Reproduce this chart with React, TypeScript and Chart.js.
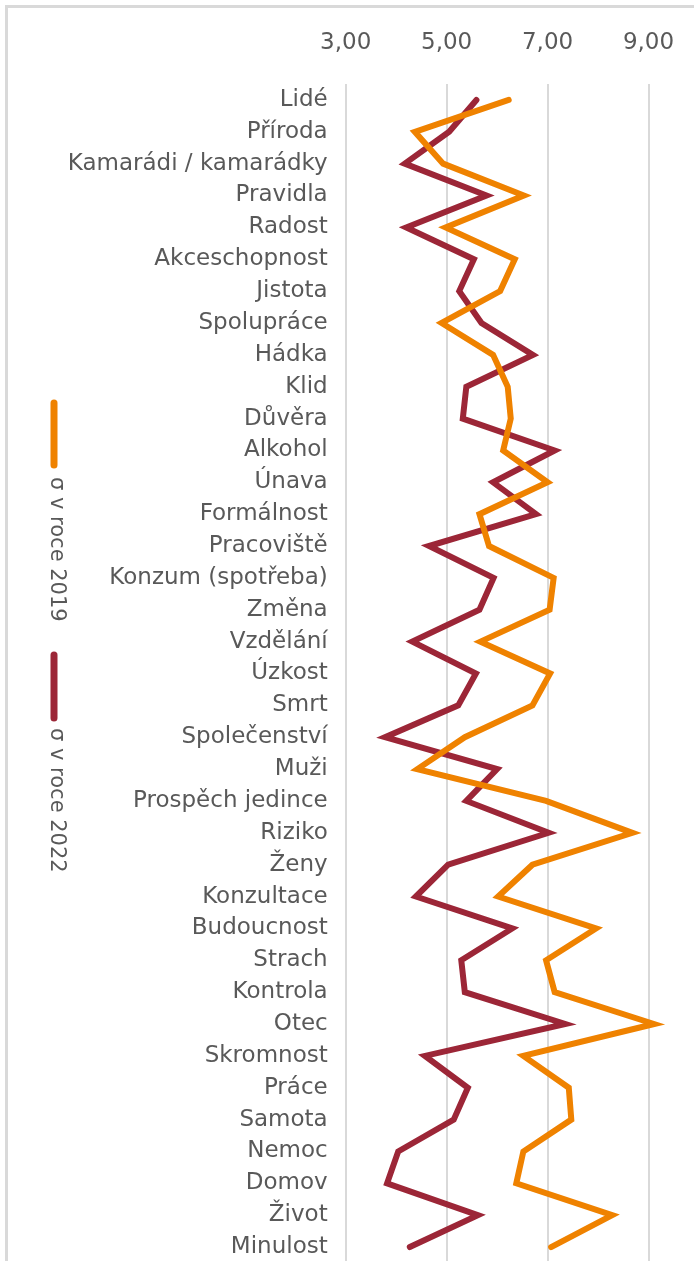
import React, { useEffect, useRef } from "react";
import { Chart, registerables } from "chart.js";

Chart.register(...registerables);

const categories = [
  "Lidé", "Příroda", "Kamarádi / kamarádky", "Pravidla", "Radost", "Akceschopnost",
  "Jistota", "Spolupráce", "Hádka", "Klid", "Důvěra", "Alkohol", "Únava", "Formálnost",
  "Pracoviště", "Konzum (spotřeba)", "Změna", "Vzdělání", "Úzkost", "Smrt", "Společenství",
  "Muži", "Prospěch jedince", "Riziko", "Ženy", "Konzultace", "Budoucnost", "Strach",
  "Kontrola", "Otec", "Skromnost", "Práce", "Samota", "Nemoc", "Domov", "Život", "Minulost",
];

const values2019 = [
  6.23, 4.37, 4.93, 6.53, 4.98, 6.35, 6.06, 4.9, 5.92, 6.21, 6.27, 6.12, 7.0, 5.65,
  5.84, 7.12, 7.04, 5.67, 7.05, 6.7, 5.36, 4.42, 6.97, 8.68, 6.7, 6.02, 7.96, 6.97,
  7.14, 9.11, 6.52, 7.42, 7.47, 6.52, 6.38, 8.28, 7.07,
];

const values2022 = [
  5.59, 5.05, 4.17, 5.79, 4.2, 5.54, 5.25, 5.69, 6.71, 5.39, 5.32, 7.14, 5.92, 6.77,
  4.65, 5.93, 5.65, 4.32, 5.58, 5.23, 3.78, 6.0, 5.39, 7.02, 5.03, 4.39, 6.3, 5.29,
  5.36, 7.35, 4.57, 5.42, 5.14, 4.04, 3.82, 5.62, 4.27,
];

const tickValues = [3, 5, 7, 9];
const seriesLabels = ["σ v roce 2019", "σ v roce 2022"];
const seriesColors = ["#EF8200", "#9C2637"];

const TEXT = "#595959";
const FONT = "'DejaVu Sans', sans-serif";

const zeroPad = (s: any) => {
  s.paddingTop = 0;
  s.paddingBottom = 0;
  s.paddingLeft = 0;
  s.paddingRight = 0;
};

const verticalLegend = {
  id: "verticalLegend",
  afterDraw(chart: any) {
    const ctx = chart.ctx;
    const spots = [
      { x: 46, y0: 395, y1: 457, ty: 469 },
      { x: 46, y0: 647, y1: 710, ty: 720 },
    ];
    chart.data.datasets.forEach((ds: any, i: number) => {
      const s = spots[i];
      if (!s) return;
      ctx.save();
      ctx.strokeStyle = ds.borderColor;
      ctx.lineWidth = 7;
      ctx.lineCap = "round";
      ctx.beginPath();
      ctx.moveTo(s.x, s.y0);
      ctx.lineTo(s.x, s.y1);
      ctx.stroke();
      ctx.translate(s.x + 2, s.ty);
      ctx.rotate(Math.PI / 2);
      ctx.fillStyle = TEXT;
      ctx.font = `21px ${FONT}`;
      ctx.textAlign = "left";
      ctx.textBaseline = "middle";
      ctx.fillText(ds.label, 0, 0);
      ctx.restore();
    });
  },
};

export default function App() {
  const ref = useRef<HTMLCanvasElement | null>(null);

  useEffect(() => {
    if (!ref.current) return;
    const chart = new Chart(ref.current, {
      type: "line",
      data: {
        labels: categories,
        datasets: [
          {
            label: seriesLabels[0],
            data: values2019,
            borderColor: seriesColors[0],
            backgroundColor: seriesColors[0],
            borderWidth: 6,
            pointRadius: 0,
            borderCapStyle: "round",
            borderJoinStyle: "miter",
            tension: 0,
          },
          {
            label: seriesLabels[1],
            data: values2022,
            borderColor: seriesColors[1],
            backgroundColor: seriesColors[1],
            borderWidth: 6,
            pointRadius: 0,
            borderCapStyle: "round",
            borderJoinStyle: "miter",
            tension: 0,
          },
        ],
      },
      options: {
        responsive: false,
        animation: false,
        indexAxis: "y",
        layout: { padding: 0 },
        plugins: {
          legend: { display: false },
          tooltip: { enabled: false },
        },
        scales: {
          x: {
            type: "linear",
            position: "top",
            min: 3,
            max: 10,
            afterBuildTicks: (s: any) => {
              s.ticks = tickValues.map((v) => ({ value: v }));
            },
            afterFit: (s: any) => {
              s.height = 76;
              zeroPad(s);
            },
            grid: { color: "#d9d9d9", lineWidth: 2, drawTicks: false },
            border: { display: false },
            ticks: {
              padding: 27,
              color: TEXT,
              autoSkip: false,
              maxRotation: 0,
              font: { family: FONT, size: 23 },
              callback: (v: any) => Number(v).toFixed(2).replace(".", ","),
            },
          },
          y: {
            type: "category",
            offset: true,
            afterFit: (s: any) => {
              s.width = 337.7;
              zeroPad(s);
            },
            grid: { display: false, drawTicks: false },
            border: { display: false },
            ticks: {
              padding: 18,
              color: TEXT,
              autoSkip: false,
              font: { family: FONT, size: 23 },
            },
          },
        },
      },
      plugins: [verticalLegend],
    } as any);
    return () => chart.destroy();
  }, []);

  return (
    <div
      style={{
        position: "absolute",
        left: 5,
        top: 5,
        width: 689,
        height: 1256,
        boxSizing: "border-box",
        borderLeft: "3px solid #d9d9d9",
        borderTop: "3px solid #d9d9d9",
        overflow: "hidden",
        background: "#fff",
      }}
    >
      <canvas
        ref={ref}
        width={691}
        height={1255}
        style={{ display: "block", width: 691, height: 1255 }}
      />
    </div>
  );
}
